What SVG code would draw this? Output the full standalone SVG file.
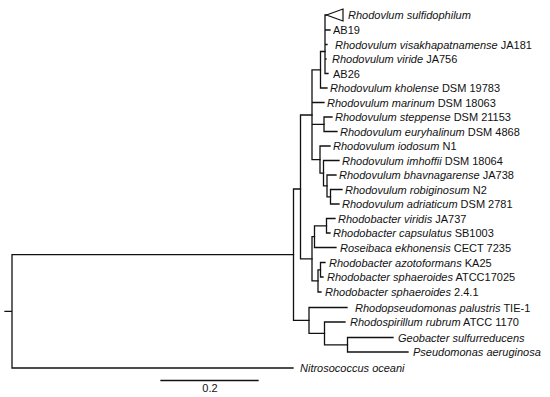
<svg xmlns="http://www.w3.org/2000/svg" width="550" height="397" viewBox="0 0 550 397">
<style>
.br{stroke:#111;stroke-width:1.3;fill:none;stroke-linecap:square}
.tri{stroke:#111;stroke-width:1.2;fill:#fff}
text{font-family:"Liberation Sans",Arial,sans-serif;font-size:11px;fill:#111}
.i{font-style:italic}
</style>
<rect width="550" height="397" fill="#fff"/>
<g id="branches">
<path class="br" d="M5,311.4H12M12,254.7V368M12,254.7H293.5M12,368H293"/>
<path class="br" d="M293.5,189V320.4M293.5,189H300.5M293.5,320.4H309"/>
<path class="br" d="M300.5,115V258.8M300.5,115H312M300.5,258.8H312"/>
<path class="br" d="M312,69.8V159.6M312,69.8H320.5M312,102.5H324M312,124.3H324M312,159.6H320"/>
<path class="br" d="M320.5,51.5V88M320.5,51.5H325M320.5,88H327"/>
<path class="br" d="M325,15V73.5M325,15H326.5M325,30H330M325,44.5H327M325,59H326M325,73.5H328"/>
<path class="tri" d="M326.5,15L343,9V21Z"/>
<path class="br" d="M324,117V131.5M324,117H332M324,131.5H337"/>
<path class="br" d="M320,146V173.2M320,146H330M320,173.2H323.5"/>
<path class="br" d="M323.5,160.5V185.9M323.5,160.5H339M323.5,185.9H327"/>
<path class="br" d="M327,175V196.8M327,175H336M327,196.8H330.5"/>
<path class="br" d="M330.5,189.5V204M330.5,189.5H342M330.5,204H339"/>
<path class="br" d="M312,236.6V280.9M312,236.6H314.5M312,280.9H318"/>
<path class="br" d="M314.5,225.8V247.5M314.5,225.8H326.5M314.5,247.5H336"/>
<path class="br" d="M326.5,218.5V233M326.5,218.5H335M326.5,233H330"/>
<path class="br" d="M318,269.8V292M318,269.8H320.5M318,292H321"/>
<path class="br" d="M320.5,262.5V277M320.5,262.5H325M320.5,277H323"/>
<path class="br" d="M309,307.5V333.4M309,307.5H347M309,333.4H324.5"/>
<path class="br" d="M324.5,322V344.8M324.5,322H345M324.5,344.8H347.5"/>
<path class="br" d="M347.5,337.5V352M347.5,337.5H393M347.5,352H408"/>
</g>
<g id="scale">
<path class="br" d="M161,380.5H258"/>
<text x="210" y="392" text-anchor="middle">0.2</text>
</g>
<g id="leaf-sulfidophilum"><text x="348" y="19" class="i">Rhodovlum sulfidophilum</text></g>
<g id="leaf-AB19"><text x="333" y="34">AB19</text></g>
<g id="leaf-visakhapatnamense"><text x="335" y="48.5"><tspan class="i">Rhodovulum visakhapatnamense</tspan> JA181</text></g>
<g id="leaf-viride"><text x="332" y="63"><tspan class="i">Rhodovulum viride</tspan> JA756</text></g>
<g id="leaf-AB26"><text x="333" y="77.5">AB26</text></g>
<g id="leaf-kholense"><text x="330" y="92"><tspan class="i">Rhodovulum kholense</tspan> DSM 19783</text></g>
<g id="leaf-marinum"><text x="327" y="106.5"><tspan class="i">Rhodovulum marinum</tspan> DSM 18063</text></g>
<g id="leaf-steppense"><text x="335" y="121"><tspan class="i">Rhodovulum steppense</tspan> DSM 21153</text></g>
<g id="leaf-euryhalinum"><text x="340" y="135.5"><tspan class="i">Rhodovulum euryhalinum</tspan> DSM 4868</text></g>
<g id="leaf-iodosum"><text x="333" y="150"><tspan class="i">Rhodovulum iodosum</tspan> N1</text></g>
<g id="leaf-imhoffii"><text x="342" y="164.5"><tspan class="i">Rhodovulum imhoffii</tspan> DSM 18064</text></g>
<g id="leaf-bhavnagarense"><text x="339" y="179"><tspan class="i">Rhodovulum bhavnagarense</tspan> JA738</text></g>
<g id="leaf-robiginosum"><text x="345" y="193.5"><tspan class="i">Rhodovulum robiginosum</tspan> N2</text></g>
<g id="leaf-adriaticum"><text x="342" y="208"><tspan class="i">Rhodovulum adriaticum</tspan> DSM 2781</text></g>
<g id="leaf-viridis"><text x="338" y="222.5"><tspan class="i">Rhodobacter viridis</tspan> JA737</text></g>
<g id="leaf-capsulatus"><text x="333" y="237"><tspan class="i">Rhodobacter capsulatus</tspan> SB1003</text></g>
<g id="leaf-roseibaca"><text x="340" y="251.5"><tspan class="i">Roseibaca ekhonensis</tspan> CECT 7235</text></g>
<g id="leaf-azotoformans"><text x="329" y="266.5"><tspan class="i">Rhodobacter azotoformans</tspan> KA25</text></g>
<g id="leaf-sphaeroides-atcc"><text x="327" y="281"><tspan class="i">Rhodobacter sphaeroides</tspan> ATCC17025</text></g>
<g id="leaf-sphaeroides-241"><text x="325" y="296"><tspan class="i">Rhodobacter sphaeroides</tspan> 2.4.1</text></g>
<g id="leaf-rhodopseudomonas"><text x="355" y="311.5"><tspan class="i">Rhodopseudomonas palustris</tspan> TIE-1</text></g>
<g id="leaf-rhodospirillum"><text x="350" y="326"><tspan class="i">Rhodospirillum rubrum</tspan> ATCC 1170</text></g>
<g id="leaf-geobacter"><text x="398" y="341.5" class="i">Geobacter sulfurreducens</text></g>
<g id="leaf-pseudomonas"><text x="413" y="356" class="i">Pseudomonas aeruginosa</text></g>
<g id="leaf-nitrosococcus"><text x="300" y="372" class="i">Nitrosococcus oceani</text></g>
</svg>
